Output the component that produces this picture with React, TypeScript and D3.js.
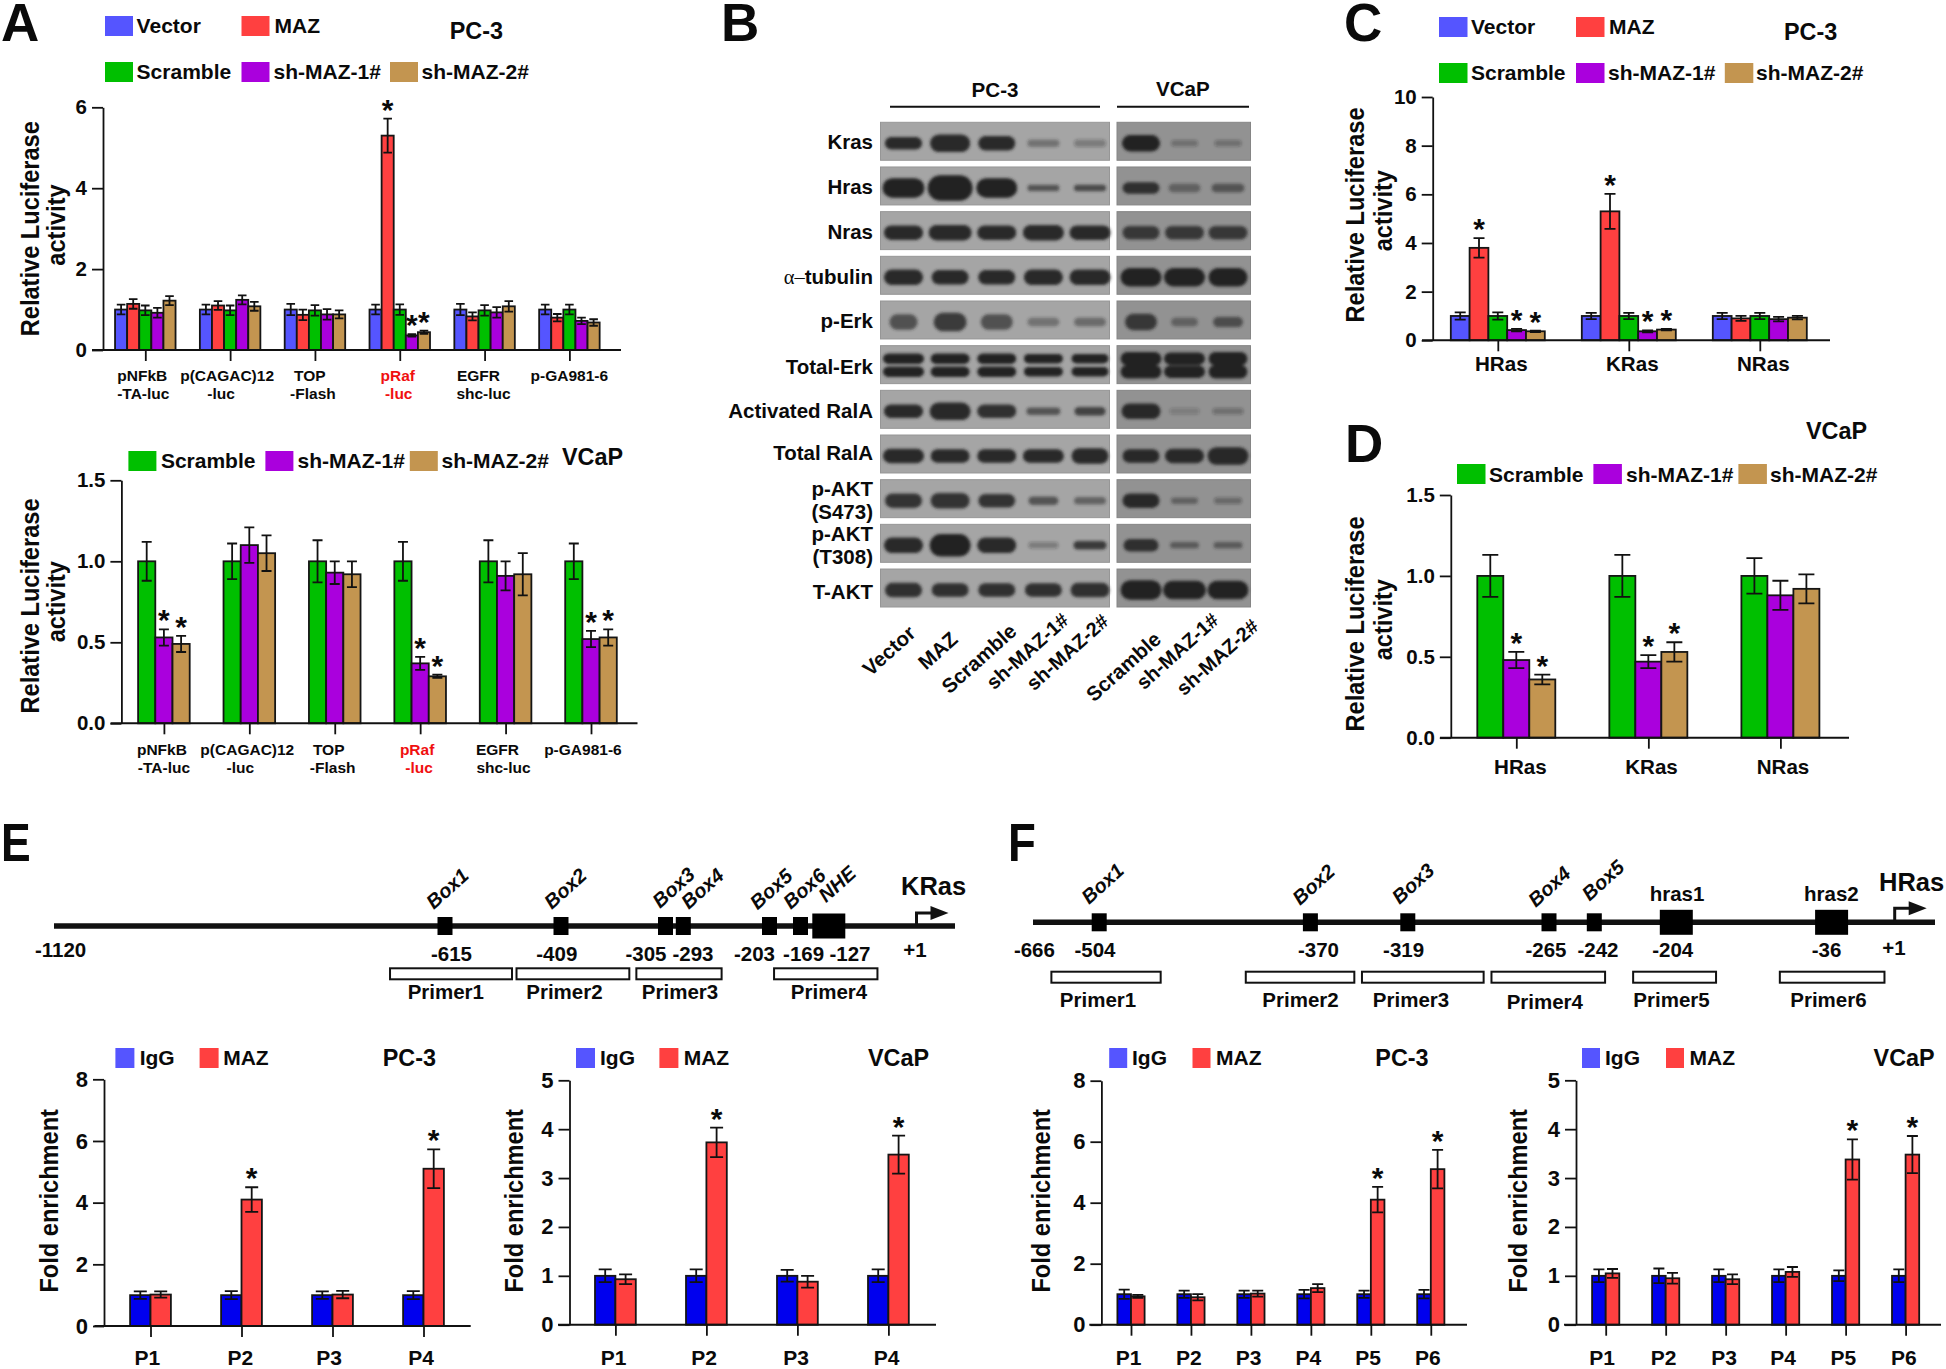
// Figure: MAZ reporter assays, western blots, Ras promoter maps and ChIP enrichment
import React from 'react';
import * as d3 from 'd3';

const FONT = '"Liberation Sans", Arial, sans-serif';
const BLUE = '#5555ff';
const DEEP_BLUE = '#0000ee';
const RED = '#ff4040';
const GREEN = '#00bf00';
const PURPLE = '#aa00dd';
const TAN = '#c39550';
const INK = '#0a0a0a';

const fiveColors = [BLUE, RED, GREEN, PURPLE, TAN];
const threeColors = [GREEN, PURPLE, TAN];
const chipColors = [DEEP_BLUE, RED];

// panel A
const reporterLines = [['pNFkB', '-TA-luc'], ['p(CAGAC)12', '-luc'], ['TOP', '-Flash'], ['pRaf', '-luc'], ['EGFR', 'shc-luc'], ['p-GA981-6']];
const reporterCats = reporterLines.map(d => d.join(' '));
const aTopDx = [[-3, -2], [-3, -9], [-5, -2], [-2, -1], [-6, -1], [0]];
const aBottomDx = [[-2, 0], [-2, -9], [-6, -2], [-3, -1], [-8, -2], [-8]];

// each row is one reporter: Vector, MAZ, Scramble, sh-MAZ-1#, sh-MAZ-2#
const aTopValues = [
  [1.0, 1.14, 0.98, 0.92, 1.22],
  [1.0, 1.1, 0.98, 1.24, 1.08],
  [1.0, 0.87, 0.98, 0.88, 0.88],
  [1.0, 5.3, 1.0, 0.36, 0.44],
  [1.0, 0.83, 0.98, 0.93, 1.08],
  [1.0, 0.8, 1.0, 0.72, 0.68],
];
const aTopErrors = [
  [0.12, 0.12, 0.12, 0.12, 0.11],
  [0.12, 0.11, 0.12, 0.11, 0.11],
  [0.14, 0.13, 0.13, 0.13, 0.1],
  [0.12, 0.42, 0.13, 0.03, 0.04],
  [0.14, 0.1, 0.13, 0.13, 0.13],
  [0.12, 0.09, 0.12, 0.08, 0.08],
];
const aTopStars = [[3, 1], [3, 3], [3, 4]];

// Scramble, sh-MAZ-1#, sh-MAZ-2#
const aBottomValues = [
  [1.0, 0.53, 0.49],
  [1.0, 1.1, 1.05],
  [1.0, 0.93, 0.92],
  [1.0, 0.37, 0.29],
  [1.0, 0.91, 0.92],
  [1.0, 0.52, 0.53],
];
const aBottomErrors = [
  [0.12, 0.05, 0.05],
  [0.11, 0.11, 0.11],
  [0.13, 0.07, 0.08],
  [0.12, 0.04, 0.01],
  [0.13, 0.09, 0.13],
  [0.11, 0.05, 0.05],
];
const aBottomStars = [[0, 1], [0, 2], [3, 1], [3, 2], [5, 1], [5, 2]];

// panels C and D
const rasCats = ['HRas', 'KRas', 'NRas'];
const cValues = [
  [1.0, 3.8, 1.0, 0.42, 0.37],
  [1.0, 5.3, 1.0, 0.37, 0.44],
  [1.0, 0.9, 1.0, 0.87, 0.93],
];
const cErrors = [
  [0.15, 0.4, 0.15, 0.05, 0.03],
  [0.13, 0.72, 0.13, 0.04, 0.03],
  [0.13, 0.1, 0.13, 0.09, 0.07],
];
const cStars = [[0, 1], [0, 3], [0, 4], [1, 1], [1, 3], [1, 4]];

const dValues = [
  [1.0, 0.48, 0.36],
  [1.0, 0.47, 0.53],
  [1.0, 0.88, 0.92],
];
const dErrors = [
  [0.13, 0.05, 0.03],
  [0.13, 0.04, 0.06],
  [0.11, 0.09, 0.09],
];
const dStars = [[0, 1], [0, 2], [1, 1], [1, 2]];

// panels E and F, ChIP: IgG, MAZ
const chipCats4 = ['P1', 'P2', 'P3', 'P4'];
const chipCats6 = ['P1', 'P2', 'P3', 'P4', 'P5', 'P6'];
const ePc3Values = [[1.0, 1.02], [1.0, 4.1], [1.0, 1.02], [1.0, 5.1]];
const ePc3Errors = [[0.12, 0.1], [0.13, 0.4], [0.12, 0.12], [0.13, 0.63]];
const eVcapValues = [[1.0, 0.93], [1.0, 3.73], [1.0, 0.88], [1.0, 3.48]];
const eVcapErrors = [[0.13, 0.1], [0.13, 0.3], [0.12, 0.12], [0.13, 0.39]];
const fPc3Values = [[1.0, 0.93], [1.0, 0.9], [1.0, 1.02], [1.0, 1.2], [1.0, 4.1], [1.0, 5.1]];
const fPc3Errors = [[0.15, 0.05], [0.12, 0.1], [0.12, 0.1], [0.14, 0.13], [0.12, 0.42], [0.14, 0.63]];
const fVcapValues = [[1.0, 1.05], [1.0, 0.95], [1.0, 0.93], [1.0, 1.08], [1.0, 3.38], [1.0, 3.48]];
const fVcapErrors = [[0.13, 0.09], [0.15, 0.11], [0.13, 0.1], [0.13, 0.1], [0.11, 0.41], [0.13, 0.38]];

// panel B, blot rows and lanes; band size in px and darkness 0..1, left to right
const blotRows = ['Kras', 'Hras', 'Nras', 'tubulin', 'p-Erk', 'Total-Erk', 'Activated RalA', 'Total RalA', 'S473', 'T308', 'T-AKT'];
const leftLanes = ['Vector', 'MAZ', 'Scramble', 'sh-MAZ-1#', 'sh-MAZ-2#'];
const rightLanes = ['Scramble', 'sh-MAZ-1#', 'sh-MAZ-2#'];
const bandWidths = [
  [35, 38, 35, 30, 30, 36, 25, 25],
  [40, 43, 39, 30, 30, 35, 30, 31],
  [37, 41, 37, 39, 39, 35, 37, 37],
  [37, 35, 35, 37, 39, 39, 39, 37],
  [26, 31, 30, 30, 30, 30, 25, 28],
  [39, 37, 37, 37, 35, 39, 39, 37],
  [37, 39, 37, 32, 29, 37, 28, 29],
  [39, 37, 37, 39, 35, 35, 37, 39],
  [35, 37, 35, 28, 30, 35, 25, 26],
  [37, 39, 37, 28, 31, 33, 27, 27],
  [35, 35, 35, 35, 37, 39, 41, 39],
];
const bandHeights = [
  [10, 15, 12, 5, 5, 14, 4, 4],
  [17, 23, 17, 4, 4, 9, 6, 6],
  [12, 13, 12, 13, 12, 11, 11, 11],
  [13, 12, 12, 13, 13, 16, 16, 16],
  [13, 16, 13, 6, 6, 14, 6, 8],
  [8, 8, 8, 7, 7, 11, 10, 11],
  [11, 15, 11, 5, 6, 13, 4, 4],
  [12, 11, 11, 11, 13, 11, 12, 15],
  [12, 13, 11, 6, 5, 12, 4, 4],
  [13, 20, 13, 4, 6, 10, 4, 4],
  [12, 11, 11, 11, 12, 17, 16, 16],
];
const bandDarkness = [
  [0.95, 0.95, 0.95, 0.4, 0.3, 1, 0.3, 0.3],
  [1, 1, 1, 0.6, 0.7, 0.9, 0.45, 0.55],
  [0.95, 0.95, 0.95, 0.95, 0.95, 0.8, 0.8, 0.8],
  [0.95, 0.95, 0.95, 0.95, 0.95, 1, 1, 1],
  [0.65, 0.8, 0.65, 0.4, 0.45, 0.8, 0.45, 0.6],
  [1, 1, 1, 1, 1, 1, 1, 1],
  [0.95, 0.95, 0.9, 0.6, 0.75, 0.95, 0.2, 0.3],
  [0.95, 0.95, 0.95, 0.95, 0.95, 0.95, 0.95, 0.95],
  [0.85, 0.85, 0.85, 0.6, 0.5, 0.95, 0.45, 0.35],
  [0.95, 1, 0.95, 0.3, 0.8, 0.9, 0.5, 0.5],
  [0.9, 0.9, 0.9, 0.9, 0.9, 1, 1, 1],
];
const DOUBLE_BAND_ROW = 'Total-Erk';

// panels E and F, promoter maps in base pairs upstream of +1
const krasAnchors = [-1120, -615, -409, -305, -293, -203, -169, -127, 1];
const krasAnchorPx = [54, 445, 561, 665.5, 683.3, 769.5, 800.5, 828.8, 916.5];
const krasSites = ['Box1', 'Box2', 'Box3', 'Box4', 'Box5', 'Box6', 'NHE'];
const krasSitePos = [-615, -409, -305, -293, -203, -169, -127];
const krasPrimers = ['Primer1', 'Primer2', 'Primer3', 'Primer4'];
const krasPrimerStart = [-686, -488, -334, -198];
const krasPrimerEnd = [-496, -341, -253, -56];

const hrasAnchors = [-666, -504, -370, -319, -265, -242, -204, -36, 1];
const hrasAnchorPx = [1033, 1099.2, 1310.4, 1407.8, 1549, 1594.3, 1676.3, 1831.6, 1894.7];
const hrasSites = ['Box1', 'Box2', 'Box3', 'Box4', 'Box5', 'hras1', 'hras2'];
const hrasSitePos = [-504, -370, -319, -265, -242, -204, -36];
const hrasPrimers = ['Primer1', 'Primer2', 'Primer3', 'Primer4', 'Primer5', 'Primer6'];
const hrasPrimerStart = [-621, -411, -343, -287, -224, -92];
const hrasPrimerEnd = [-465, -347, -290, -237, -161, -5];

// bold text helper, almost everything in the figure is bold Arial
const T = ({ x, y, size = 20, anchor = 'start', fill = INK, weight = 'bold', italic = false, rotate = 0, sx = 1, sy = 1, children }: any) => (
  <text
    transform={`translate(${x},${y}) rotate(${rotate}) scale(${sx},${sy})`}
    fontFamily={FONT}
    fontSize={size}
    fontWeight={weight}
    fontStyle={italic ? 'italic' : 'normal'}
    textAnchor={anchor}
    fill={fill}
  >
    {children}
  </text>
);

const Legend = ({ items, top, height, baseline, width, size = 21 }: any) => (
  <g>
    {items.map(([label, color, sx, tx]: any) => (
      <g key={label}>
        <rect x={sx} y={top} width={width} height={height} fill={color} />
        <T x={tx} y={baseline} size={size}>{label}</T>
      </g>
    ))}
  </g>
);

// axis titles come out a little taller than plain Arial, hence sy
const YLabel = ({ x, y, text, second, secondX, secondY, size = 23.6 }: any) => (
  <g>
    <T x={x} y={y} size={size} anchor="middle" rotate={-90} sy={1.13}>{text}</T>
    {second && <T x={secondX} y={secondY} size={size} anchor="middle" rotate={-90} sy={1.13}>{second}</T>}
  </g>
);

const BarChart = ({ cats, colors, values, errors, stars = [], yMax, yTicks, tickDigits = 0, axisX, yTop, yZero, axisStart, axisEnd, firstTick, lastTick, barW, capW, tickSize = 20.5, tickPad = 5 }: any) => {
  const x = d3.scalePoint<string>().domain(cats).range([firstTick, lastTick]);
  const inner = d3.scaleBand<number>().domain(d3.range(colors.length)).range([-barW * colors.length / 2, barW * colors.length / 2]);
  const y = d3.scaleLinear().domain([0, yMax]).range([yZero, yTop]);

  const barX = (g: number, s: number) => (x(cats[g]) as number) + (inner(s) as number);
  const barMid = (g: number, s: number) => barX(g, s) + inner.bandwidth() / 2;

  return (
    <g>
      {values.map((group: number[], g: number) => group.map((v, s) => (
        <g key={`${g}-${s}`}>
          <rect x={barX(g, s)} y={y(v)} width={inner.bandwidth()} height={yZero - y(v)} fill={colors[s]} stroke="#151515" strokeWidth={1.8} />
          <path
            d={`M${barMid(g, s)},${y(v + errors[g][s])}V${y(v - errors[g][s])}M${barMid(g, s) - capW / 2},${y(v + errors[g][s])}h${capW}M${barMid(g, s) - capW / 2},${y(v - errors[g][s])}h${capW}`}
            stroke="#111"
            strokeWidth={1.8}
            fill="none"
          />
        </g>
      )))}
      {stars.map(([g, s]: number[]) => (
        <T key={`star-${g}-${s}`} x={barMid(g, s)} y={y(values[g][s] + errors[g][s]) + 1} size={30} anchor="middle">*</T>
      ))}
      <g
        transform={`translate(0,${yZero})`}
        ref={node => {
          if (!node) return;
          const g = d3.select(node);
          g.call(d3.axisBottom(x).tickSize(11).tickSizeOuter(0).tickFormat(() => '') as any);
          g.select('.domain').remove();
          g.selectAll('line').attr('stroke', '#111').attr('stroke-width', 1.8);
        }}
      />
      <line x1={axisStart} x2={axisEnd} y1={yZero} y2={yZero} stroke="#111" strokeWidth={2} />
      <g
        transform={`translate(${axisX},0)`}
        ref={node => {
          if (!node) return;
          const g = d3.select(node);
          g.call(d3.axisLeft(y).tickValues(yTicks).tickSize(11).tickSizeOuter(0).tickPadding(tickPad).tickFormat(d3.format(`.${tickDigits}f`) as any) as any);
          g.selectAll('line').attr('stroke', '#111').attr('stroke-width', 1.8);
          g.select('.domain').attr('stroke', '#111').attr('stroke-width', 1.8);
          g.selectAll('text').attr('fill', INK).attr('font-family', FONT).attr('font-weight', 'bold').attr('font-size', tickSize);
        }}
      />
    </g>
  );
};

const ReporterLabels = ({ ticks, dx, line1, line2 }: any) => (
  <g>
    {reporterLines.map((lines, i) => lines.map((txt, j) => (
      <T key={`${i}-${j}`} x={ticks[i] + dx[i][j]} y={j === 0 ? line1 : line2} size={15.5} anchor="middle" fill={i === 3 ? '#f01010' : INK}>{txt}</T>
    )))}
  </g>
);

const Blot = () => {
  const rowBand = d3.scaleBand<string>().domain(blotRows).range([122.3, 607]).paddingInner(0.15);
  const left = d3.scalePoint<string>().domain(leftLanes).range([903.5, 1090]);
  const right = d3.scalePoint<string>().domain(rightLanes).range([1141, 1228]);
  const laneX = [...leftLanes.map(d => left(d) as number), ...rightLanes.map(d => right(d) as number)];
  return (
    <g>
      <defs>
        <filter id="band-blur" x="-20%" y="-60%" width="140%" height="220%">
          <feGaussianBlur stdDeviation="1.5" />
        </filter>
      </defs>
      {blotRows.map((row, r) => {
        const top = rowBand(row) as number;
        const h = rowBand.bandwidth();
        return (
          <g key={row}>
            <rect x={880.5} y={top} width={229} height={h} fill="#a5a5a5" stroke="#969696" strokeWidth={1} />
            <rect x={1117} y={top} width={133.5} height={h} fill="#929292" stroke="#858585" strokeWidth={1} />
            <g filter="url(#band-blur)">
              {laneX.map((cx, l) => {
                const w = bandWidths[r][l] + 2;
                const bh = bandHeights[r][l] + 2.5;
                const offsets = row === DOUBLE_BAND_ROW ? [-6, 7] : [2];
                return offsets.map(off => (
                  <rect
                    key={`${l}-${off}`}
                    x={cx - w / 2}
                    y={top + h / 2 + off - bh / 2}
                    width={w}
                    height={bh}
                    rx={Math.min(w, bh) / 2}
                    fill="#222"
                    opacity={bandDarkness[r][l]}
                  />
                ));
              })}
            </g>
          </g>
        );
      })}
    </g>
  );
};

const GeneMap = ({ anchors, anchorPx, sites, sitePos, bigSites, primers, starts, ends, lineY, lineStart, lineEnd, smallHalf, bigHalf, primerTop, children }: any) => {
  const x = d3.scaleLinear().domain(anchors).range(anchorPx);
  return (
    <g>
      <line x1={lineStart} x2={lineEnd} y1={lineY} y2={lineY} stroke="#111" strokeWidth={5.5} />
      {sites.map((name: string, i: number) => {
        const big = bigSites.includes(name);
        const w = big ? 33 : 15;
        const half = big ? bigHalf : smallHalf;
        return <rect key={name} x={x(sitePos[i]) - w / 2} y={lineY - half} width={w} height={half * 2} fill="#000" />;
      })}
      {primers.map((name: string, i: number) => (
        <rect key={name} x={x(starts[i])} y={primerTop} width={x(ends[i]) - x(starts[i])} height={11} fill="#fff" stroke="#111" strokeWidth={2} />
      ))}
      {children}
    </g>
  );
};

// transcription start arrow
const StartArrow = ({ x, base, top }: any) => (
  <g>
    <path d={`M${x},${base}V${top}H${x + 16}`} fill="none" stroke="#111" strokeWidth={3} />
    <path d={`M${x + 14},${top - 7}L${x + 32},${top}L${x + 14},${top + 7}Z`} fill="#111" />
  </g>
);

const App = () => {
  const fiveLegendA = [
    ['Vector', BLUE, 105, 136.6], ['MAZ', RED, 241.5, 274.5],
  ];
  const fiveLegendA2 = [
    ['Scramble', GREEN, 105, 136.6], ['sh-MAZ-1#', PURPLE, 241.5, 273.6], ['sh-MAZ-2#', TAN, 390, 421.5],
  ];
  const cTicks = [1497.8, 1628.8, 1759.8];
  const aTopTicks = d3.range(6).map(i => 145.3 + i * 84.8);
  const aBottomTicks = d3.range(6).map(i => 163.9 + i * 85.4);

  return (
    <svg width={1946} height={1369} style={{ position: 'absolute', left: 0, top: 0, display: 'block', background: '#fff' }}>
      {/* panel letters */}
      <T x={1} y={40.7} size={53}>A</T>
      <T x={721} y={40.7} size={53}>B</T>
      <T x={1344} y={40.7} size={53}>C</T>
      <T x={1345} y={462} size={53}>D</T>
      <T x={1} y={860.7} size={53} sx={0.84}>E</T>
      <T x={1008} y={860.7} size={53} sx={0.86}>F</T>

      {/* A top */}
      <Legend items={fiveLegendA} top={16} height={20} baseline={33} width={28} />
      <Legend items={fiveLegendA2} top={62} height={20} baseline={79} width={28} />
      <T x={449.7} y={39} size={23.4}>PC-3</T>
      <YLabel x={39} y={228.7} text="Relative Luciferase" second="activity" secondX={65} secondY={225} />
      <BarChart cats={reporterCats} colors={fiveColors} values={aTopValues} errors={aTopErrors} stars={aTopStars} yMax={6} yTicks={[0, 2, 4, 6]} axisX={103} yTop={107.3} yZero={350} axisStart={92} axisEnd={621} firstTick={145.3} lastTick={569.4} barW={12.1} capW={8.6} />
      <ReporterLabels ticks={aTopTicks} dx={aTopDx} line1={381} line2={399} />

      {/* A bottom */}
      <Legend items={[['Scramble', GREEN, 128.4, 160.9], ['sh-MAZ-1#', PURPLE, 265.4, 297.5], ['sh-MAZ-2#', TAN, 409.8, 441.5]]} top={451} height={20} baseline={467.7} width={28} />
      <T x={562} y={465} size={23.4}>VCaP</T>
      <YLabel x={39} y={606} text="Relative Luciferase" second="activity" secondX={65} secondY={601.7} />
      <BarChart cats={reporterCats} colors={threeColors} values={aBottomValues} errors={aBottomErrors} stars={aBottomStars} yMax={1.5} yTicks={[0, 0.5, 1, 1.5]} tickDigits={1} axisX={121.4} yTop={480.3} yZero={723.3} axisStart={110.6} axisEnd={637.5} firstTick={163.9} lastTick={591} barW={17.2} capW={10} />
      <ReporterLabels ticks={aBottomTicks} dx={aBottomDx} line1={755} line2={773.3} />

      {/* B */}
      <T x={995} y={96.7} size={20.6} anchor="middle">PC-3</T>
      <T x={1182.8} y={95.7} size={20.6} anchor="middle">VCaP</T>
      <line x1={890} x2={1100} y1={106.7} y2={106.7} stroke="#111" strokeWidth={2} />
      <line x1={1117} x2={1249} y1={106.7} y2={106.7} stroke="#111" strokeWidth={2} />
      <Blot />
      <g>
        <T x={873} y={149.3} size={20.5} anchor="end">Kras</T>
        <T x={873} y={194} size={20.5} anchor="end">Hras</T>
        <T x={873} y={239} size={20.5} anchor="end">Nras</T>
        <text x={873} y={284.3} fontFamily={FONT} fontSize={20.5} fontWeight="bold" textAnchor="end" fill={INK}>
          <tspan fontFamily='"Liberation Serif", serif' fontWeight="normal">α–</tspan>tubulin
        </text>
        <T x={873} y={328} size={20.5} anchor="end">p-Erk</T>
        <T x={873} y={374} size={20.5} anchor="end">Total-Erk</T>
        <T x={873} y={418.3} size={20.5} anchor="end">Activated RalA</T>
        <T x={873} y={460} size={20.5} anchor="end">Total RalA</T>
        <T x={873} y={496} size={20.5} anchor="end">p-AKT</T>
        <T x={873} y={519} size={20.5} anchor="end">(S473)</T>
        <T x={873} y={540.7} size={20.5} anchor="end">p-AKT</T>
        <T x={873} y={564} size={20.5} anchor="end">(T308)</T>
        <T x={873} y={599.3} size={20.5} anchor="end">T-AKT</T>
      </g>
      <g>
        <T x={917} y={635} size={20.5} anchor="end" rotate={-42}>Vector</T>
        <T x={959} y={641} size={20.5} anchor="end" rotate={-42}>MAZ</T>
        <T x={1018} y={633} size={20.5} anchor="end" rotate={-42}>Scramble</T>
        <T x={1070} y={622} size={20} anchor="end" rotate={-42}>sh-MAZ-1#</T>
        <T x={1110} y={623} size={20} anchor="end" rotate={-42}>sh-MAZ-2#</T>
        <T x={1162.5} y={641} size={20.5} anchor="end" rotate={-42}>Scramble</T>
        <T x={1220} y={622} size={20} anchor="end" rotate={-42}>sh-MAZ-1#</T>
        <T x={1260} y={628} size={20} anchor="end" rotate={-42}>sh-MAZ-2#</T>
      </g>

      {/* C */}
      <Legend items={[['Vector', BLUE, 1439, 1471], ['MAZ', RED, 1576, 1609]]} top={17} height={20} baseline={34} width={28.5} />
      <Legend items={[['Scramble', GREEN, 1439, 1471], ['sh-MAZ-1#', PURPLE, 1576, 1608], ['sh-MAZ-2#', TAN, 1724.8, 1756]]} top={63} height={20} baseline={80} width={28.5} />
      <T x={1784} y={40} size={23.4}>PC-3</T>
      <YLabel x={1364} y={215} text="Relative Luciferase" second="activity" secondX={1391.5} secondY={210.7} />
      <BarChart cats={rasCats} colors={fiveColors} values={cValues} errors={cErrors} stars={cStars} yMax={10} yTicks={[0, 2, 4, 6, 8, 10]} axisX={1432.7} yTop={97} yZero={340.3} axisStart={1422} axisEnd={1830} firstTick={1497.8} lastTick={1759.8} barW={18.8} capW={11} />
      {rasCats.map((c, i) => <T key={c} x={cTicks[i] + 3.5} y={370.7} size={20.6} anchor="middle">{c}</T>)}

      {/* D */}
      <Legend items={[['Scramble', GREEN, 1457, 1489], ['sh-MAZ-1#', PURPLE, 1593.4, 1626], ['sh-MAZ-2#', TAN, 1738.4, 1770]]} top={464} height={20} baseline={481.7} width={28.5} />
      <T x={1806} y={439} size={23.4}>VCaP</T>
      <YLabel x={1364} y={624} text="Relative Luciferase" second="activity" secondX={1391.5} secondY={619.7} />
      <BarChart cats={rasCats} colors={threeColors} values={dValues} errors={dErrors} stars={dStars} yMax={1.5} yTicks={[0, 0.5, 1, 1.5]} tickDigits={1} axisX={1450.8} yTop={495} yZero={737.7} axisStart={1440} axisEnd={1849} firstTick={1516.3} lastTick={1780.4} barW={26} capW={16} />
      {rasCats.map((c, i) => <T key={c} x={[1520.4, 1651.5, 1783][i]} y={774} size={20.6} anchor="middle">{c}</T>)}

      {/* E map */}
      <GeneMap anchors={krasAnchors} anchorPx={krasAnchorPx} sites={krasSites} sitePos={krasSitePos} bigSites={['NHE']} primers={krasPrimers} starts={krasPrimerStart} ends={krasPrimerEnd} lineY={926} lineStart={54} lineEnd={955} smallHalf={9} bigHalf={12.5} primerTop={968.3}>
        {[['Box1', 433.7, 910], ['Box2', 551.7, 910], ['Box3', 660, 909], ['Box4', 688.8, 910], ['Box5', 757.6, 910.5], ['Box6', 790.8, 910], ['NHE', 826, 903.3]].map(([s, x, y]: any) => (
          <T key={s} x={x} y={y} size={20} italic weight="bold" rotate={-42}>{s}</T>
        ))}
        {[['-1120', 60.6, 957.3], ['-615', 451.5, 961], ['-409', 556.8, 961], ['-305', 646, 961], ['-293', 693, 961], ['-203', 754.5, 961], ['-169', 803.6, 961], ['-127', 850, 961], ['+1', 915, 957]].map(([s, x, y]: any) => (
          <T key={s} x={x} y={y} size={20.5} anchor="middle">{s}</T>
        ))}
        {krasPrimers.map((p, i) => <T key={p} x={[445.8, 564.4, 680, 829][i]} y={999.3} size={20.5} anchor="middle">{p}</T>)}
        <T x={901} y={895} size={25.5}>KRas</T>
        <StartArrow x={916.5} base={926} top={913} />
      </GeneMap>

      {/* F map */}
      <GeneMap anchors={hrasAnchors} anchorPx={hrasAnchorPx} sites={hrasSites} sitePos={hrasSitePos} bigSites={['hras1', 'hras2']} primers={hrasPrimers} starts={hrasPrimerStart} ends={hrasPrimerEnd} lineY={922.3} lineStart={1033} lineEnd={1935} smallHalf={9} bigHalf={12.5} primerTop={971.7}>
        {[['Box1', 1089, 905], ['Box2', 1300, 906], ['Box3', 1399.4, 905], ['Box4', 1535.7, 908], ['Box5', 1589.4, 901.7]].map(([s, x, y]: any) => (
          <T key={s} x={x} y={y} size={20} italic weight="bold" rotate={-42}>{s}</T>
        ))}
        <T x={1677} y={901} size={20.5} anchor="middle">hras1</T>
        <T x={1831.4} y={901} size={20.5} anchor="middle">hras2</T>
        {[['-666', 1034.4, 957.3], ['-504', 1095, 957.3], ['-370', 1318.5, 957.3], ['-319', 1403.6, 957.3], ['-265', 1546, 957.3], ['-242', 1598, 957.3], ['-204', 1672.7, 957.3], ['-36', 1826.5, 957.3], ['+1', 1894, 955]].map(([s, x, y]: any) => (
          <T key={s} x={x} y={y} size={20.5} anchor="middle">{s}</T>
        ))}
        {hrasPrimers.map((p, i) => <T key={p} x={[1098, 1300.5, 1411, 1544.8, 1671.5, 1828.4][i]} y={p === 'Primer4' ? 1009 : 1006.7} size={20.5} anchor="middle">{p}</T>)}
        <T x={1879} y={890.7} size={25.5}>HRas</T>
        <StartArrow x={1894.7} base={922} top={908.3} />
      </GeneMap>

      {/* E ChIP */}
      <Legend items={[['IgG', BLUE, 115.4, 139.7], ['MAZ', RED, 199.6, 223.2]]} top={1048} height={20} baseline={1065} width={19} />
      <T x={382.7} y={1066} size={23.4}>PC-3</T>
      <YLabel x={58} y={1200.8} text="Fold enrichment" />
      <BarChart cats={chipCats4} colors={chipColors} values={ePc3Values} errors={ePc3Errors} stars={[[1, 1], [3, 1]]} yMax={8} yTicks={[0, 2, 4, 6, 8]} axisX={104} yTop={1079.3} yZero={1326} axisStart={94.4} axisEnd={470.7} firstTick={150.5} lastTick={423.5} barW={20.4} capW={13} tickSize={22} />
      {chipCats4.map((c, i) => <T key={c} x={[147.3, 240.4, 329, 421][i]} y={1364.5} size={21} anchor="middle">{c}</T>)}

      <Legend items={[['IgG', BLUE, 576, 600], ['MAZ', RED, 659.4, 683.7]]} top={1048} height={20} baseline={1065} width={19} />
      <T x={868} y={1066} size={23.4}>VCaP</T>
      <YLabel x={523} y={1200.8} text="Fold enrichment" />
      <BarChart cats={chipCats4} colors={chipColors} values={eVcapValues} errors={eVcapErrors} stars={[[1, 1], [3, 1]]} yMax={5} yTicks={[0, 1, 2, 3, 4, 5]} axisX={569.5} yTop={1080.3} yZero={1324.7} axisStart={558} axisEnd={936} firstTick={615.4} lastTick={888.4} barW={20.4} capW={13} tickSize={22} />
      {chipCats4.map((c, i) => <T key={c} x={[613.5, 704, 796, 886.5][i]} y={1364.5} size={21} anchor="middle">{c}</T>)}

      {/* F ChIP */}
      <Legend items={[['IgG', BLUE, 1109.2, 1132], ['MAZ', RED, 1192.5, 1216]]} top={1048} height={20} baseline={1065} width={18} />
      <T x={1375.3} y={1066} size={23.4}>PC-3</T>
      <YLabel x={1049.5} y={1200.8} text="Fold enrichment" />
      <BarChart cats={chipCats6} colors={chipColors} values={fPc3Values} errors={fPc3Errors} stars={[[4, 1], [5, 1]]} yMax={8} yTicks={[0, 2, 4, 6, 8]} axisX={1101.4} yTop={1080.7} yZero={1324.7} axisStart={1089.3} axisEnd={1467} firstTick={1131} lastTick={1430.8} barW={13.6} capW={11} tickSize={22} />
      {chipCats6.map((c, i) => <T key={c} x={[1128.5, 1188.8, 1248.6, 1308.3, 1368, 1427.8][i]} y={1364.5} size={21} anchor="middle">{c}</T>)}

      <Legend items={[['IgG', BLUE, 1582, 1605], ['MAZ', RED, 1666, 1689.6]]} top={1048} height={20} baseline={1065} width={18} />
      <T x={1873.6} y={1066} size={23.4}>VCaP</T>
      <YLabel x={1526.7} y={1200.8} text="Fold enrichment" />
      <BarChart cats={chipCats6} colors={chipColors} values={fVcapValues} errors={fVcapErrors} stars={[[4, 1], [5, 1]]} yMax={5} yTicks={[0, 1, 2, 3, 4, 5]} axisX={1576} yTop={1080.3} yZero={1324.7} axisStart={1564} axisEnd={1941} firstTick={1605.7} lastTick={1905.6} barW={13.6} capW={11} tickSize={22} />
      {chipCats6.map((c, i) => <T key={c} x={[1602, 1663.6, 1724, 1783, 1843.4, 1903.8][i]} y={1364.5} size={21} anchor="middle">{c}</T>)}
    </svg>
  );
};

export default App;
